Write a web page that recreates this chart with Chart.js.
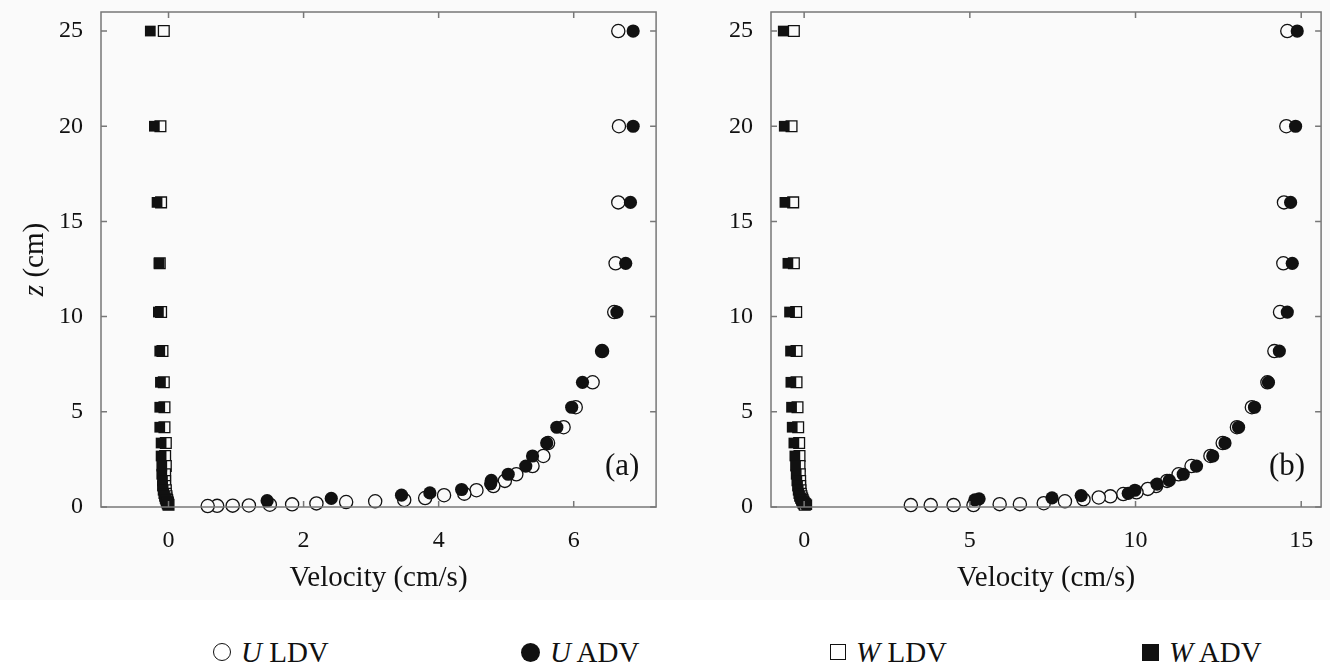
<!DOCTYPE html>
<html>
<head>
<meta charset="utf-8">
<script src="https://cdn.jsdelivr.net/npm/chart.js@4.4.1/dist/chart.umd.min.js"></script>
<style>
  body { margin: 0; width: 1330px; height: 671px; position: relative; overflow: hidden; background: #fff;
         font-family: "Liberation Serif", "Times New Roman", serif; color: #111; }
  .panel { position: absolute; top: 0; width: 665px; height: 600px; background: #fafafa; }
  #legend { position: absolute; top: 635px; left: 0; width: 1330px; height: 34px; }
  .item { position: absolute; top: 0; height: 34px; display: flex; align-items: center; font-size: 29px; }
  .sym { display: inline-block; box-sizing: border-box; margin-right: 10px; }
</style>
</head>
<body>
<div class="panel" style="left:0"><canvas id="chartA" width="665" height="600"></canvas></div>
<div class="panel" style="left:665px"><canvas id="chartB" width="665" height="600"></canvas></div>
<div id="legend"></div>
<script>
// ---- panel (a) ----
// U profiles: heights (cm) and velocities (cm/s)
const zLdvA = [25, 20, 16, 12.8, 10.24, 8.19, 6.55, 5.24, 4.19, 3.36, 2.68, 2.15, 1.72, 1.37, 1.10, 0.88, 0.70, 0.62, 0.47, 0.37, 0.30, 0.26, 0.19, 0.14, 0.12, 0.08, 0.07, 0.06, 0.05];
const uLdvA = [6.66, 6.67, 6.66, 6.62, 6.60, 6.42, 6.28, 6.03, 5.85, 5.62, 5.55, 5.39, 5.15, 4.98, 4.81, 4.56, 4.38, 4.08, 3.80, 3.49, 3.06, 2.63, 2.19, 1.83, 1.50, 1.19, 0.95, 0.72, 0.58];
const zAdvA = [25, 20, 16, 12.8, 10.24, 8.19, 6.55, 5.24, 4.19, 3.36, 2.68, 2.15, 1.72, 1.40, 1.22, 0.92, 0.74, 0.62, 0.45, 0.33];
const uAdvA = [6.88, 6.88, 6.84, 6.77, 6.64, 6.42, 6.13, 5.97, 5.75, 5.60, 5.39, 5.29, 5.03, 4.78, 4.77, 4.34, 3.87, 3.45, 2.41, 1.46];
// W profiles
const zWA = [25, 20, 16, 12.8, 10.24, 8.19, 6.55, 5.24, 4.19, 3.36, 2.68, 2.15, 1.72, 1.37, 1.10, 0.88, 0.70, 0.56, 0.45, 0.36, 0.29, 0.23, 0.18, 0.12];
const wLdvA = [-0.07, -0.12, -0.11, -0.13, -0.11, -0.09, -0.07, -0.06, -0.06, -0.04, -0.05, -0.04, -0.05, -0.05, -0.05, -0.04, -0.04, -0.03, -0.03, -0.02, -0.02, -0.01, -0.01, 0.00];
const wAdvA = [-0.27, -0.21, -0.17, -0.14, -0.15, -0.13, -0.12, -0.13, -0.13, -0.11, -0.11, -0.10, -0.10, -0.09, -0.09, -0.08, -0.07, -0.06, -0.05, -0.04, -0.03, -0.02, -0.01, 0.00];

// ---- panel (b) ----
const zLdvB = [25, 20, 16, 12.8, 10.24, 8.19, 6.55, 5.24, 4.19, 3.36, 2.68, 2.15, 1.72, 1.37, 1.10, 0.95, 0.77, 0.68, 0.56, 0.50, 0.40, 0.30, 0.20, 0.15, 0.15, 0.10, 0.10, 0.10, 0.10];
const uLdvB = [14.58, 14.55, 14.48, 14.46, 14.36, 14.19, 13.98, 13.51, 13.06, 12.63, 12.26, 11.69, 11.30, 10.95, 10.62, 10.37, 10.03, 9.63, 9.24, 8.89, 8.43, 7.87, 7.23, 6.51, 5.90, 5.11, 4.51, 3.82, 3.22];
const zAdvB = [25, 20, 16, 12.8, 10.24, 8.19, 6.55, 5.24, 4.19, 3.36, 2.68, 2.15, 1.72, 1.40, 1.20, 0.88, 0.72, 0.60, 0.48, 0.43, 0.37];
const uAdvB = [14.88, 14.83, 14.68, 14.73, 14.58, 14.34, 14.01, 13.59, 13.11, 12.70, 12.33, 11.84, 11.44, 11.02, 10.65, 9.98, 9.78, 8.36, 7.48, 5.28, 5.15];
const zWB = [25, 20, 16, 12.8, 10.24, 8.19, 6.55, 5.24, 4.19, 3.36, 2.68, 2.15, 1.72, 1.37, 1.10, 0.88, 0.70, 0.56, 0.45, 0.36, 0.29, 0.23, 0.18, 0.12];
const wLdvB = [-0.31, -0.38, -0.33, -0.31, -0.24, -0.23, -0.23, -0.20, -0.18, -0.15, -0.14, -0.14, -0.13, -0.12, -0.12, -0.11, -0.10, -0.08, -0.06, -0.05, -0.03, -0.02, 0.00, 0.02];
const wAdvB = [-0.63, -0.60, -0.58, -0.49, -0.44, -0.41, -0.40, -0.38, -0.36, -0.31, -0.28, -0.26, -0.24, -0.22, -0.20, -0.18, -0.16, -0.14, -0.11, -0.08, -0.05, -0.01, 0.05, 0.08];

// ticks
const xTicksA = [0, 2, 4, 6];
const xTicksB = [0, 5, 10, 15];
const zTicks = [0, 5, 10, 15, 20, 25];

const seriesNames = [['U', ' LDV'], ['U', ' ADV'], ['W', ' LDV'], ['W', ' ADV']];

const FONT = 'Liberation Serif';
const INK = '#111';

const pts = (vs, zs) => vs.map((v, i) => ({x: v, y: zs[i]}));

// box with inward ticks on all four sides, panel tag and y title
const framePlugin = {
  id: 'frame',
  afterDraw(chart, args, opts) {
    const {ctx, chartArea: a, scales: {x, y}} = chart;
    ctx.save();
    ctx.strokeStyle = '#777';
    ctx.lineWidth = 1.5;
    ctx.strokeRect(a.left, a.top, a.right - a.left, a.bottom - a.top);
    ctx.beginPath();
    x.ticks.forEach(t => {
      const px = x.getPixelForValue(t.value);
      ctx.moveTo(px, a.bottom); ctx.lineTo(px, a.bottom - 6);
      ctx.moveTo(px, a.top); ctx.lineTo(px, a.top + 6);
    });
    y.ticks.forEach(t => {
      const py = y.getPixelForValue(t.value);
      ctx.moveTo(a.left, py); ctx.lineTo(a.left + 6, py);
      ctx.moveTo(a.right, py); ctx.lineTo(a.right - 6, py);
    });
    ctx.stroke();

    ctx.fillStyle = INK;
    ctx.font = '31px "' + FONT + '"';
    ctx.textAlign = 'center';
    ctx.textBaseline = 'middle';
    ctx.fillText(opts.tag, a.right - 34, a.bottom - 40);

    if (opts.yTitle) {
      ctx.translate(35, (a.top + a.bottom) / 2);
      ctx.rotate(-Math.PI / 2);
      ctx.textAlign = 'left';
      ctx.font = 'italic 29px "' + FONT + '"';
      const w1 = ctx.measureText('z').width;
      ctx.font = '29px "' + FONT + '"';
      const w2 = ctx.measureText(' (cm)').width;
      const x0 = -(w1 + w2) / 2;
      ctx.font = 'italic 29px "' + FONT + '"';
      ctx.fillText('z', x0, 0);
      ctx.font = '29px "' + FONT + '"';
      ctx.fillText(' (cm)', x0 + w1, 0);
    }
    ctx.restore();
  }
};

function makePanel(id, d) {
  const circle = {pointStyle: 'circle', pointRadius: 6.6, pointHoverRadius: 6.6, clip: false, showLine: false};
  const square = {pointStyle: 'rect', pointRadius: 7.6, pointHoverRadius: 7.6, clip: false, showLine: false};
  return new Chart(document.getElementById(id), {
    type: 'scatter',
    data: {
      datasets: [
        Object.assign({label: 'U LDV', data: pts(d.uLdv, d.zLdv), backgroundColor: '#fafafa', borderColor: INK, borderWidth: 1.3, order: 4}, circle),
        Object.assign({label: 'U ADV', data: pts(d.uAdv, d.zAdv), backgroundColor: INK, borderColor: INK, borderWidth: 0, order: 3}, circle),
        Object.assign({label: 'W LDV', data: pts(d.wLdv, d.zW), backgroundColor: '#fafafa', borderColor: INK, borderWidth: 1.3, order: 2}, square),
        Object.assign({label: 'W ADV', data: pts(d.wAdv, d.zW), backgroundColor: INK, borderColor: INK, borderWidth: 0, order: 1}, square)
      ]
    },
    options: {
      responsive: false,
      animation: false,
      events: [],
      layout: {padding: d.padding},
      plugins: {
        legend: {display: false},
        tooltip: {enabled: false},
        frame: {tag: d.tag, yTitle: d.yTitle}
      },
      scales: {
        x: {
          type: 'linear', min: d.xMin, max: d.xMax,
          afterBuildTicks: s => { s.ticks = d.xTicks.map(v => ({value: v})); },
          afterFit: s => { s.height = 93; s.paddingLeft = 0; s.paddingRight = 0; },
          grid: {display: false, drawTicks: false},
          border: {display: false},
          ticks: {padding: 19, color: INK, font: {family: FONT, size: 24}},
          title: {display: true, text: 'Velocity (cm/s)', color: INK, font: {family: FONT, size: 29}, padding: {top: 0, bottom: 4}}
        },
        y: {
          type: 'linear', min: 0, max: 26,
          afterBuildTicks: s => { s.ticks = zTicks.map(v => ({value: v})); },
          afterFit: s => { s.width = d.yWidth; s.paddingTop = 0; s.paddingBottom = 0; },
          grid: {display: false, drawTicks: false},
          border: {display: false},
          ticks: {padding: 18, color: INK, font: {family: FONT, size: 24}}
        }
      }
    },
    plugins: [framePlugin]
  });
}

makePanel('chartA', {
  uLdv: uLdvA, zLdv: zLdvA, uAdv: uAdvA, zAdv: zAdvA, wLdv: wLdvA, wAdv: wAdvA, zW: zWA,
  xMin: -1, xMax: 7.22, xTicks: xTicksA, tag: '(a)', yTitle: true, yWidth: 101,
  padding: {left: 0, right: 6, top: 12, bottom: 0}
});
makePanel('chartB', {
  uLdv: uLdvB, zLdv: zLdvB, uAdv: uAdvB, zAdv: zAdvB, wLdv: wLdvB, wAdv: wAdvB, zW: zWB,
  xMin: -1, xMax: 15.6, xTicks: xTicksB, tag: '(b)', yTitle: false, yWidth: 106,
  padding: {left: 0, right: 1, top: 12, bottom: 0}
});

// legend under both panels
const legendLeft = [213, 521, 830, 1142];
const symCss = [
  'width:18px;height:18px;border:1.6px solid #111;border-radius:50%;background:#fff',
  'width:19px;height:19px;border-radius:50%;background:#111',
  'width:16px;height:16px;border:1.6px solid #111;background:#fff',
  'width:17px;height:17px;background:#111'
];
const legend = document.getElementById('legend');
seriesNames.forEach((n, i) => {
  const el = document.createElement('div');
  el.className = 'item';
  el.style.left = legendLeft[i] + 'px';
  el.innerHTML = '<span class="sym" style="' + symCss[i] + '"></span><span><i>' + n[0] + '</i>' + n[1] + '</span>';
  legend.appendChild(el);
});
</script>
</body>
</html>
